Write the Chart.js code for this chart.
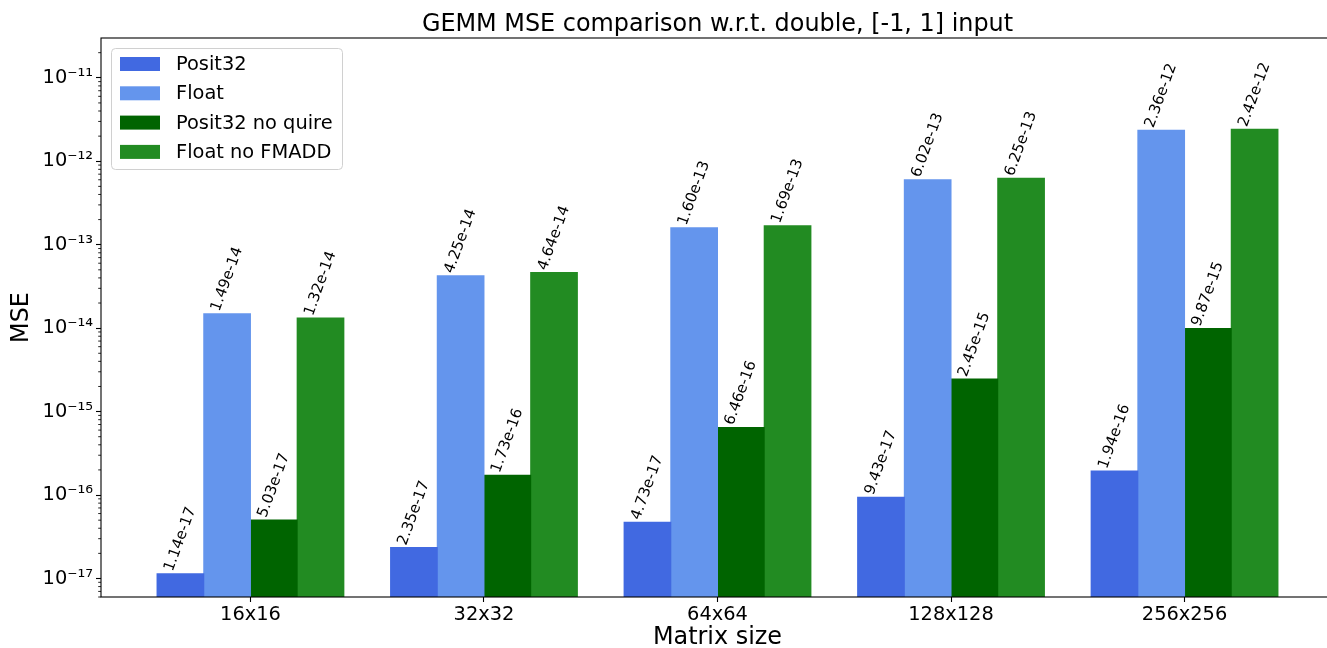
<!DOCTYPE html>
<html><head><meta charset="utf-8">
<script src="https://cdn.jsdelivr.net/npm/chart.js@4.4.1/dist/chart.umd.min.js"></script>
<style>html,body{margin:0;padding:0;background:#fff;overflow:hidden;} #wrap{width:1327px;height:648px;position:relative;overflow:hidden;} canvas{display:block;}</style>
</head><body><div id="wrap"><canvas id="c" width="1335" height="648"></canvas></div>
<script>
const categories = ['16x16', '32x32', '64x64', '128x128', '256x256'];
const seriesNames = ['Posit32', 'Float', 'Posit32 no quire', 'Float no FMADD'];
const posit32 = [1.14e-17, 2.35e-17, 4.73e-17, 9.43e-17, 1.94e-16];
const float32 = [1.49e-14, 4.25e-14, 1.60e-13, 6.02e-13, 2.36e-12];
const posit32NoQuire = [5.03e-17, 1.73e-16, 6.46e-16, 2.45e-15, 9.87e-15];
const floatNoFmadd = [1.32e-14, 4.64e-14, 1.69e-13, 6.25e-13, 2.42e-12];
const yTickValues = [1e-17, 1e-16, 1e-15, 1e-14, 1e-13, 1e-12, 1e-11];
const yTickLabels = ['10⁻¹⁷', '10⁻¹⁶', '10⁻¹⁵', '10⁻¹⁴', '10⁻¹³', '10⁻¹²', '10⁻¹¹'];
const seriesColors = ['#4169E1', '#6495ED', '#006400', '#228B22'];
const allSeries = [posit32, float32, posit32NoQuire, floatNoFmadd];
const chartTitle = 'GEMM MSE comparison w.r.t. double, [-1, 1] input';

const FONT = 'DejaVu Sans';
Chart.defaults.font.family = FONT;
Chart.defaults.color = '#000';

const datasets = allSeries.map((vals, k) => ({
  label: seriesNames[k],
  data: vals.map((v, i) => ({x: i, y: v})),
  backgroundColor: seriesColors[k],
  borderWidth: 0,
  inflateAmount: 0.5,
  barPercentage: 1.0,
  categoryPercentage: 0.8
}));

const decor = {
  id: 'decor',
  afterDatasetsDraw(chart) {
    const ctx = chart.ctx;
    ctx.save();
    const fs = 15;
    ctx.font = fs + 'px "' + FONT + '"';
    ctx.fillStyle = '#000';
    const ang = 70 * Math.PI / 180;
    chart.data.datasets.forEach((ds, k) => {
      const meta = chart.getDatasetMeta(k);
      meta.data.forEach((bar, i) => {
        const v = allSeries[k][i];
        const txt = v.toExponential(2);
        const w = ctx.measureText(txt).width;
        const h = fs * 1.16;
        const bh = w * Math.sin(ang) + h * Math.cos(ang);
        ctx.save();
        ctx.translate(bar.x, bar.y - bh / 2);
        ctx.rotate(-ang);
        ctx.textAlign = 'center';
        ctx.textBaseline = 'middle';
        ctx.fillText(txt, 0, 0);
        ctx.restore();
      });
    });
    ctx.restore();
  },
  afterDraw(chart) {
    const ctx = chart.ctx;
    const ca = chart.chartArea;
    const ys = chart.scales.y;
    ctx.save();
    ctx.font = '23.9px "' + FONT + '"';
    ctx.fillStyle = '#000';
    ctx.textAlign = 'center';
    ctx.textBaseline = 'alphabetic';
    ctx.fillText(chartTitle, (ca.left + ca.right) / 2, 31);
    ctx.strokeStyle = '#000';
    ctx.lineWidth = 0.85;
    for (let d = -18; d <= -10; d++) {
      for (let m = 2; m <= 9; m++) {
        const v = m * Math.pow(10, d);
        if (v < ys.min || v > ys.max) continue;
        const y = ys.getPixelForValue(v);
        ctx.beginPath();
        ctx.moveTo(ca.left - 2.8, y);
        ctx.lineTo(ca.left, y);
        ctx.stroke();
      }
    }
    ctx.lineWidth = 1.1;
    ctx.strokeStyle = '#000';
    ctx.strokeRect(ca.left, ca.top, ca.right - ca.left, ca.bottom - ca.top);
    const lx = 111.5, ly = 48.5, lw = 231, lh = 121;
    ctx.beginPath();
    ctx.roundRect(lx, ly, lw, lh, 4);
    ctx.fillStyle = 'rgba(255,255,255,0.8)';
    ctx.fill();
    ctx.strokeStyle = '#d0d0d0';
    ctx.lineWidth = 1;
    ctx.stroke();
    ctx.font = '19.4px "' + FONT + '"';
    ctx.textAlign = 'left';
    ctx.textBaseline = 'middle';
    seriesNames.forEach((name, k) => {
      const cy = 64 + k * 29.3;
      ctx.fillStyle = seriesColors[k];
      ctx.fillRect(120, cy - 7, 40, 14);
      ctx.fillStyle = '#000';
      ctx.fillText(name, 176, cy + 1);
    });
    ctx.restore();
  }
};

new Chart(document.getElementById('c'), {
  type: 'bar',
  data: {datasets},
  plugins: [decor],
  options: {
    responsive: false,
    animation: false,
    devicePixelRatio: 1,
    layout: {padding: {left: 0, right: 1, top: 38, bottom: 0}},
    plugins: {
      legend: {display: false},
      tooltip: {enabled: false},
      title: {display: false}
    },
    scales: {
      x: {
        type: 'linear',
        offset: false,
        min: -0.64,
        max: 4.64,
        afterBuildTicks: (s) => { s.ticks = categories.map((c, i) => ({value: i})); },
        afterFit: (s) => { s.height = 51; },
        ticks: {
          callback: (v) => categories[Math.round(v)],
          font: {size: 19.4, family: FONT},
          color: '#000',
          padding: 1,
          maxRotation: 0,
          autoSkip: false
        },
        grid: {display: true, offset: false, drawOnChartArea: false, drawTicks: true, tickLength: 5, tickColor: '#000', tickWidth: 1.1},
        border: {display: false},
        title: {display: true, text: 'Matrix size', font: {size: 23.9, family: FONT, lineHeight: 1}, color: '#000', padding: {top: 0, bottom: -2}}
      },
      y: {
        type: 'logarithmic',
        min: Math.pow(10, -17.209),
        max: Math.pow(10, -10.523),
        afterBuildTicks: (s) => { s.ticks = yTickValues.map(v => ({value: v})); },
        afterFit: (s) => { s.width = 101; },
        ticks: {
          callback: (v) => { const i = yTickValues.findIndex(t => Math.abs(Math.log10(t) - Math.log10(v)) < 1e-6); return i >= 0 ? yTickLabels[i] : ''; },
          font: {size: 19.4, family: FONT},
          color: '#000',
          padding: 3,
          autoSkip: false
        },
        grid: {display: true, drawOnChartArea: false, drawTicks: true, tickLength: 5, tickColor: '#000', tickWidth: 1.1},
        border: {display: false},
        title: {display: true, text: 'MSE', font: {size: 23.9, family: FONT, lineHeight: 1}, color: '#000', padding: {top: 10, bottom: 0}}
      }
    }
  }
});
</script>
</body></html>
